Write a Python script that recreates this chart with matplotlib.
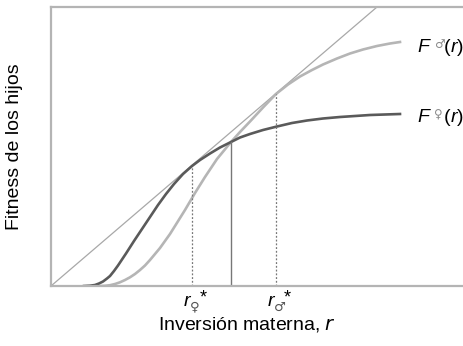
import matplotlib
matplotlib.use("Agg")
import matplotlib.pyplot as plt

plt.rcParams['font.family'] = ['Liberation Sans', 'DejaVu Sans']

# data (arbitrary units: x = maternal investment, y = offspring fitness)
r_female = [33, 39, 44, 48, 52, 56, 59, 63, 67, 71, 75, 83, 91, 99, 107, 115, 123, 132, 141,
            149, 159, 169, 180, 189, 199, 212, 226, 241, 256, 272, 289, 304, 319, 334, 349]
F_female = [0, 0.3, 1, 2.5, 4.5, 7.5, 10, 15, 20.5, 26.5, 32.5, 45, 57, 69, 81, 92, 102, 112, 120,
            126, 132.5, 138.5, 144, 148.5, 152, 156, 159.5, 163, 165.5, 167.5, 169, 170, 171, 171.5, 172]
r_male = [49, 54, 59, 64, 69, 74, 79, 84, 89, 94, 99, 104, 109, 114, 119, 124, 129, 134, 139, 144,
          149, 154, 160, 166, 173, 180, 189, 199, 212, 225, 237, 249, 261, 272, 286, 299, 312, 326, 339, 349]
F_male = [0, 0.2, 0.8, 2, 3.7, 6, 8.7, 12, 16, 20.5, 26, 32, 38, 45, 52, 60, 68, 76, 84.5, 93,
          101, 109, 118, 127, 135.5, 144, 154, 164.5, 178.5, 192, 201.5, 209.5, 216, 221.5, 227.5,
          232.5, 236.5, 240, 242.5, 244]
tangent_x = [0, 326]
tangent_y = [0, 279]
r_star_female = 141
F_star_female = 120
r_star_male = 225
F_star_male = 192
r_cross = 180
F_cross = 144

fig = plt.figure(figsize=(4.63, 3.46), dpi=100)
ax = fig.add_axes([51/463, (346-286)/346, (463-51)/463, 279/346])
ax.set_xlim(0, 412)
ax.set_ylim(0, 279)

frame_c = '#b4b4b4'
ax.spines['right'].set_visible(False)
for s in ['left', 'top', 'bottom']:
    ax.spines[s].set_color(frame_c)
    ax.spines[s].set_linewidth(1.6)
ax.set_xticks([])
ax.set_yticks([])

ax.plot(tangent_x, tangent_y, color='#a8a8a8', lw=0.9, solid_capstyle='butt')
ax.plot(r_male, F_male, color='#b5b5b5', lw=1.9)
ax.plot(r_female, F_female, color='#5a5a5a', lw=1.9)

ax.plot([r_star_female, r_star_female], [0, F_star_female], color='#777777', lw=0.9, ls=(0, (1.5, 1.5)))
ax.plot([r_star_male, r_star_male], [0, F_star_male], color='#777777', lw=0.9, ls=(0, (1.5, 1.5)))
ax.plot([r_cross, r_cross], [0, F_cross], color='#777777', lw=1.0)

fs = 14
sym_kw = dict(fontsize=8.5, color='#8a8a8a', va='center', ha='left', family=['DejaVu Sans'], clip_on=False)
# curve labels
for yv, sym in [(238, '♂'), (168, '♀')]:
    ax.text(366, yv, 'F', fontsize=fs, style='italic', va='center', ha='left', clip_on=False)
    ax.text(383, yv + 4, sym, **sym_kw)
    ax.text(393, yv, '(', fontsize=fs, va='center', ha='left', clip_on=False)
    ax.text(399.5, yv, 'r', fontsize=fs, style='italic', va='center', ha='left', clip_on=False)
    ax.text(405.5, yv, ')', fontsize=fs, va='center', ha='left', clip_on=False)

# r* labels below axis
def rstar(x, sym):
    ax.text(x - 2, -16, 'r', fontsize=fs, style='italic', va='center', ha='right', clip_on=False)
    ax.text(x - 2, -21, sym, fontsize=9.5, color='#555555', va='center', ha='left', clip_on=False,
            family=['DejaVu Sans'])
    ax.text(x + 8, -3, '*', fontsize=13, va='top', ha='left', clip_on=False)

rstar(r_star_female, '♀')
rstar(r_star_male, '♂')

fig.text(247/463, 1 - 325/346, 'Inversión materna, $\\it{r}$', fontsize=fs, ha='center', va='center')
fig.text(15/463, 1 - 147/346, 'Fitness de los hijos', fontsize=fs, ha='center', va='center', rotation=90)

fig.savefig('out.png', dpi=100)
